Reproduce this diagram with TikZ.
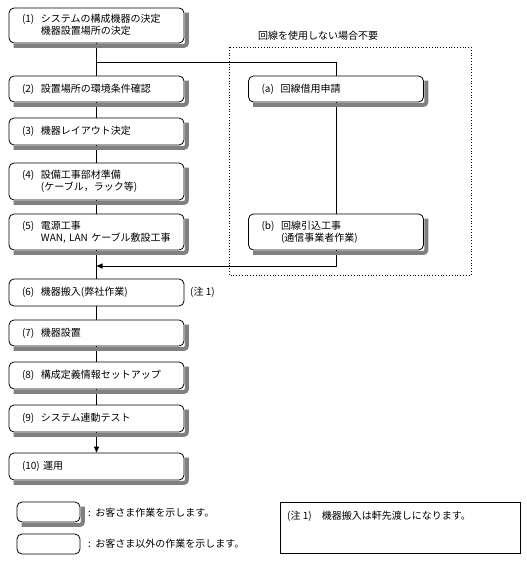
\documentclass[tikz,border=0pt]{standalone}
\usepackage{fontspec}
\setmainfont{Noto Sans CJK JP}
\usetikzlibrary{arrows.meta}

\tikzset{
  work/.style={draw, rounded corners=5pt, fill=white, minimum width=175pt,
    text width=149pt, inner xsep=13pt, inner ysep=2pt, align=left,
    line width=0.8pt, font=\fontsize{10}{12}\selectfont},
  boxshadow/.style={draw=gray, line width=4pt, rounded corners=3pt},
  flow/.style={line width=0.8pt},
  txt/.style={font=\fontsize{10}{12}\selectfont, inner sep=0pt},
}

\begin{document}
\begin{tikzpicture}[x=1pt,y=-1pt]
    \useasboundingbox (0,0) rectangle (527,562);

    % 左側の作業
    \node[work, minimum height=35pt] (s1) at (96.5,25.5)
        {(1)\ \ システムの構成機器の決定\\\phantom{(1)}\ \ 機器設置場所の決定};
    \node[work, minimum height=26pt] (s2) at (96.5,89) {(2)\ \ 設置場所の環境条件確認};
    \node[work, minimum height=27pt] (s3) at (96.5,131.5) {(3)\ \ 機器レイアウト決定};
    \node[work, minimum height=37pt] (s4) at (96.5,181.5)
        {(4)\ \ 設備工事部材準備\\\phantom{(4)}\ \ (ケーブル，ラック等)};
    \node[work, minimum height=36pt] (s5) at (96.5,232)
        {(5)\ \ 電源工事\\\phantom{(5)}\ \ WAN, LAN ケーブル敷設工事};
    \node[work, minimum height=27pt] (s6) at (96.5,292.5) {(6)\ \ 機器搬入(弊社作業)};
    \node[work, minimum height=26pt] (s7) at (96.5,333) {(7)\ \ 機器設置};
    \node[work, minimum height=27pt] (s8) at (96.5,375.5) {(8)\ \ 構成定義情報セットアップ};
    \node[work, minimum height=27pt] (s9) at (96.5,418.5) {(9)\ \ システム連動テスト};
    \node[work, minimum height=27pt] (s10) at (96.5,466.5) {(10)\ 運用};
    \node[txt, anchor=west] (n6) at (190,292.5) {(注 1)};

    % 回線関係（点線枠）
    \draw[dotted, line width=0.8pt] (229,47) rectangle (471,275);
    \node[txt] (optlbl) at (318,36) {回線を使用しない場合不要};
    \node[work, minimum height=26pt] (sa) at (336,89) {(a)\ \ 回線借用申請};
    \node[work, minimum height=36pt] (sb) at (336,232)
        {(b)\ \ 回線引込工事\\\phantom{(b)}\ \ (通信事業者作業)};

    % 分岐と合流
    \coordinate (split) at (96.5,62);
    \coordinate (merge) at (96.5,266);

    % 接続線
    \draw[flow] (s1) -- (s2);
    \draw[flow] (split) -| (sa);
    \draw[flow] (sa) -- (sb);
    \draw[flow, -{Triangle[length=6pt,width=5pt]}] (sb) |- (merge);
    \draw[flow] (s2) -- (s3);
    \draw[flow] (s3) -- (s4);
    \draw[flow] (s4) -- (s5);
    \draw[flow] (s5) -- (s6);
    \draw[flow] (s6) -- (s7);
    \draw[flow] (s7) -- (s8);
    \draw[flow] (s8) -- (s9);
    \draw[flow, -{Triangle[length=6pt,width=5pt]}] (s9) -- (s10);

    % 凡例
    \node[work, minimum width=63pt, text width=37pt, minimum height=20pt] (legcust) at (48.5,512) {};
    \node[txt, anchor=west] (legcusttxt) at (88,513) {:\ \ お客さま作業を示します。};
    \node[work, minimum width=63pt, text width=37pt, minimum height=20pt] (legother) at (48.5,544) {};
    \node[txt, anchor=west] (legothertxt) at (88,544) {:\ \ お客さま以外の作業を示します。};

    % 注記
    \node[draw, line width=0.8pt, minimum width=240pt, minimum height=51pt] (note) at (400,527.5) {};
    \node[txt, anchor=west] (notetxt) at (287,516) {(注 1)\quad 機器搬入は軒先渡しになります。};

    % お客さま作業の影（右と下）
    \foreach \b in {s1,s2,s3,s4,s5,s7,s8,s9,s10,sa,sb,legcust}
        \draw[boxshadow] ([shift={(2.5,5)}]\b.north east) -- ([shift={(2.5,2.5)}]\b.south east)
            -- ([shift={(5,2.5)}]\b.south west);
\end{tikzpicture}
\end{document}
